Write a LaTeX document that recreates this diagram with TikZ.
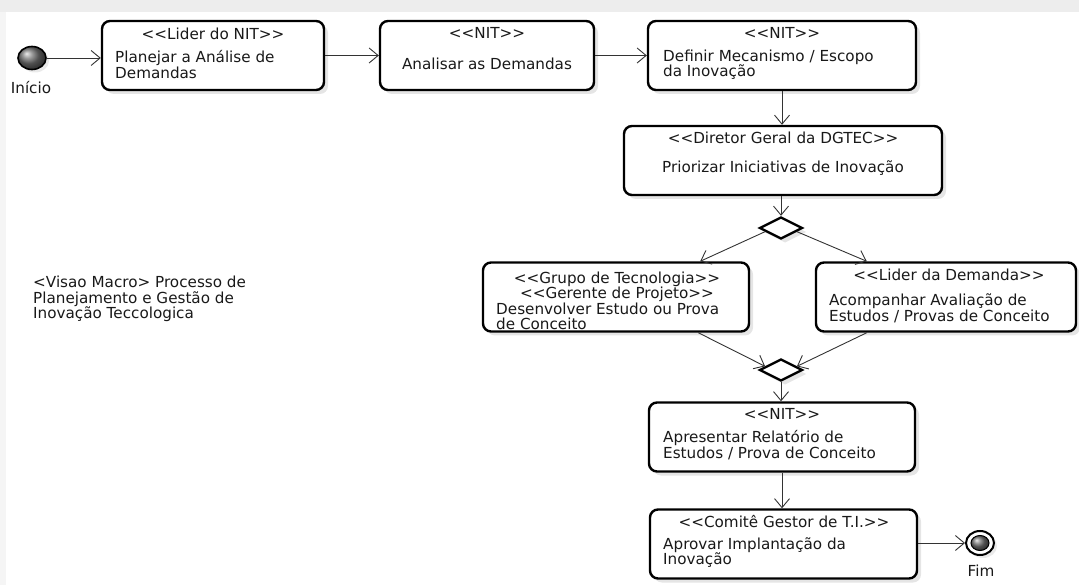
\documentclass[tikz,border=0pt]{standalone}
\usepackage{fontspec}
\setmainfont{DejaVu Sans}[Ligatures=TeXOff]
\usetikzlibrary{arrows.meta,shapes.geometric,shadows,calc}
\begin{document}
\begin{tikzpicture}[x=1pt,y=-1pt,
  font=\fontsize{15.2}{15.6}\selectfont,
  every node/.style={inner sep=0pt,text=black!90},
  action/.style={draw=black,line width=2.4pt,rounded corners=8pt,fill=white,
    minimum height=69pt,minimum width=#1,
    drop shadow={shadow xshift=4pt,shadow yshift=-4pt,fill=black!20}},
  decision/.style={diamond,draw=black,line width=2.4pt,fill=white,
    minimum width=43pt,minimum height=22pt,aspect=2,
    drop shadow={shadow xshift=4pt,shadow yshift=-4pt,fill=black!20}},
  stereo/.style={align=center},
  body/.style={align=left,anchor=west},
  conn/.style={draw=black!80,line width=0.9pt,-{Straight Barb[length=9pt,width=15pt]}},
]
\useasboundingbox (0,0) rectangle (1079,585);
% window frame tint
\fill[black!7] (0,0) rectangle (1079,12);
\fill[black!4] (0,12) rectangle (6,585);

% start and end markers
\node[ellipse,minimum width=28pt,minimum height=23pt,draw=black,line width=1.6pt,
  shading=ball,ball color=black!55,
  drop shadow={shadow xshift=3pt,shadow yshift=-3pt,fill=black!16}] (start) at (32,58) {};
\node (lbini) at (31,88) {Início};

\node[ellipse,minimum width=28pt,minimum height=24pt,draw=black,line width=2pt,fill=white,
  drop shadow={shadow xshift=3pt,shadow yshift=-3pt,fill=black!16}] (fim) at (980,543) {};
\node[ellipse,minimum width=18pt,minimum height=15pt,draw=black,line width=1pt,
  shading=ball,ball color=black!55] (fimin) at (fim) {};
\node (lbfim) at (981,571) {Fim};

% activities
\node[action=222pt] (b1) at (213,55.5) {};
\node[stereo] (s1) at (213,34) {<<Lider do NIT>>};
\node[body] (t1) at (115,64.5) {Planejar a Análise de\\Demandas};

\node[action=214pt] (b2) at (487,55.5) {};
\node[stereo] (s2) at (487,33) {<<NIT>>};
\node (t2) at (487,64) {Analisar as Demandas};

\node[action=268pt] (b3) at (782,55.5) {};
\node[stereo] (s3) at (782,33) {<<NIT>>};
\node[body] (t3) at (663,64.5) {Definir Mecanismo / Escopo\\da Inovação};

\node[action=318pt] (b4) at (783,160.5) {};
\node[stereo] (s4) at (783,138) {<<Diretor Geral da DGTEC>>};
\node (t4) at (783,168) {Priorizar Iniciativas de Inovação};

\node[decision] (d1) at (781,228) {};

\node[action=266pt] (b5) at (616,297) {};
\node[stereo] (s5) at (617,287) {<<Grupo de Tecnologia>>\\<<Gerente de Projeto>>};
\node[body] (t5) at (496,316.5) {Desenvolver Estudo ou Prova\\de Conceito};

\node[action=260pt] (b6) at (946,297) {};
\node[stereo] (s6) at (949,275) {<<Lider da Demanda>>};
\node[body] (t6) at (829,308.5) {Acompanhar Avaliação de\\Estudos / Provas de Conceito};

\node[decision] (d2) at (781,370) {};

\node[action=266pt] (b7) at (782,437) {};
\node[stereo] (s7) at (782,414) {<<NIT>>};
\node[body] (t7) at (663,445) {Apresentar Relatório de\\Estudos / Prova de Conceito};

\node[action=267pt] (b8) at (783.5,544) {};
\node[stereo] (s8) at (784,522) {<<Comitê Gestor de T.I.>>};
\node[body] (t8) at (663,552.5) {Aprovar Implantação da\\Inovação};

% note
\node[body] (nota) at (33,299) {<Visao Macro> Processo de\\Planejamento e Gestão de\\Inovação Teccologica};

% control flow
\draw[conn] (start.east) -- (start.east -| b1.west);
\draw[conn] (b1.east) -- (b2.west);
\draw[conn] (b2.east) -- (b3.west);
\draw[conn] (b3.south) -- (b3.south |- b4.north);
\draw[conn] (b4.south -| d1.north) -- (d1.north);
\draw[conn] ($(d1.west)!0.3!(d1.south)$) -- ([xshift=-50pt]b5.north east);
\draw[conn] ($(d1.east)!0.3!(d1.south)$) -- ([xshift=52pt]b6.north west);
\draw[conn] ([xshift=-52pt]b5.south east) -- ($(d2.west)!0.3!(d2.north)$);
\draw[conn] ([xshift=52pt]b6.south west) -- ($(d2.east)!0.3!(d2.north)$);
\draw[conn] (d2.south) -- (d2.south |- b7.north);
\draw[conn] (b7.south) -- (b7.south |- b8.north);
\draw[conn] (b8.east |- fim.west) -- (fim.west);
\end{tikzpicture}
\end{document}
